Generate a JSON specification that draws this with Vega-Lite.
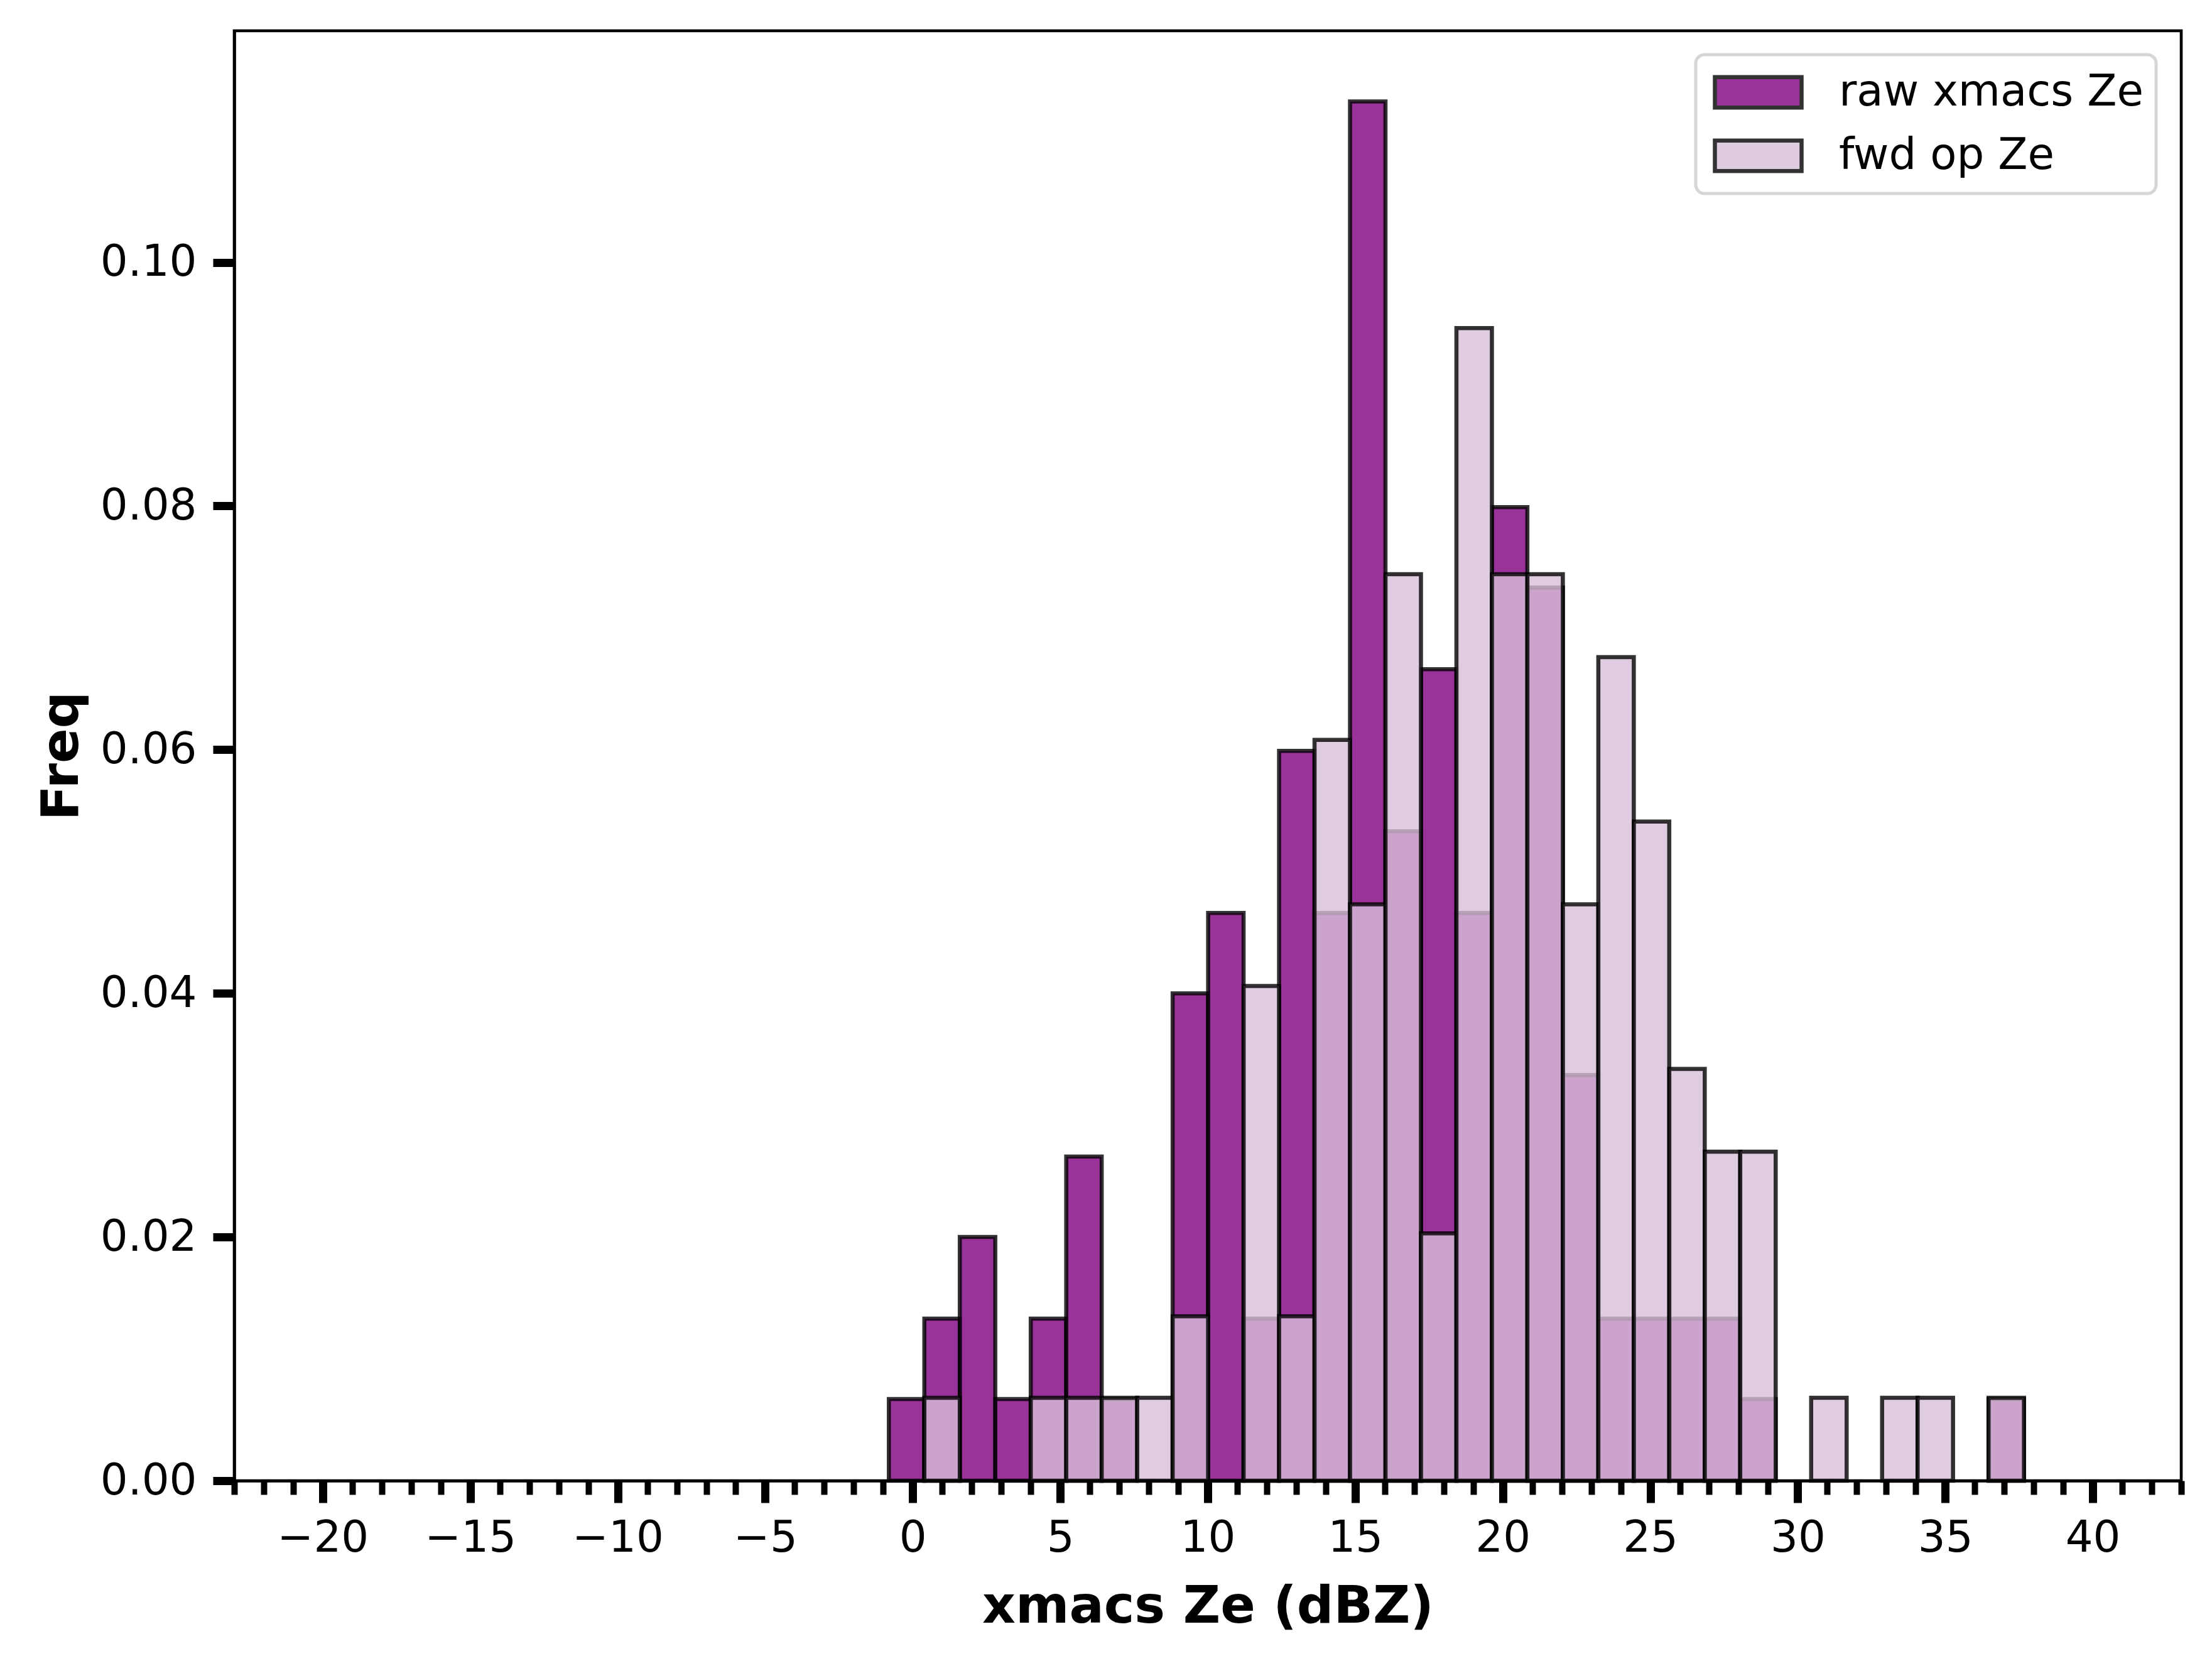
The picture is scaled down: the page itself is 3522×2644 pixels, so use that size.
{
  "$schema": "https://vega.github.io/schema/vega-lite/v6.json",
  "description": "Histogram of raw xmacs Ze vs forward operator Ze (density)",
  "width": 3100,
  "height": 2308,
  "autosize": {"type": "none"},
  "padding": {"left": 373, "top": 49, "right": 49, "bottom": 287},
  "background": "white",
  "config": {
    "font": "DejaVu Sans",
    "view": {"stroke": "black", "strokeWidth": 4.6}
  },
  "data": {
    "values": [
      {"series": "raw xmacs Ze", "x0": -0.81, "x1": 0.393, "density": 0.0067},
      {"series": "raw xmacs Ze", "x0": 0.393, "x1": 1.595, "density": 0.0133},
      {"series": "raw xmacs Ze", "x0": 1.595, "x1": 2.798, "density": 0.02},
      {"series": "raw xmacs Ze", "x0": 2.798, "x1": 4.0, "density": 0.0067},
      {"series": "raw xmacs Ze", "x0": 4.0, "x1": 5.203, "density": 0.0133},
      {"series": "raw xmacs Ze", "x0": 5.203, "x1": 6.405, "density": 0.0266},
      {"series": "raw xmacs Ze", "x0": 6.405, "x1": 7.608, "density": 0.0067},
      {"series": "raw xmacs Ze", "x0": 8.81, "x1": 10.013, "density": 0.04},
      {"series": "raw xmacs Ze", "x0": 10.013, "x1": 11.215, "density": 0.0466},
      {"series": "raw xmacs Ze", "x0": 11.215, "x1": 12.418, "density": 0.0133},
      {"series": "raw xmacs Ze", "x0": 12.418, "x1": 13.62, "density": 0.0599},
      {"series": "raw xmacs Ze", "x0": 13.62, "x1": 14.823, "density": 0.0466},
      {"series": "raw xmacs Ze", "x0": 14.823, "x1": 16.025, "density": 0.1132},
      {"series": "raw xmacs Ze", "x0": 16.025, "x1": 17.228, "density": 0.0533},
      {"series": "raw xmacs Ze", "x0": 17.228, "x1": 18.43, "density": 0.0666},
      {"series": "raw xmacs Ze", "x0": 18.43, "x1": 19.633, "density": 0.0466},
      {"series": "raw xmacs Ze", "x0": 19.633, "x1": 20.835, "density": 0.0799},
      {"series": "raw xmacs Ze", "x0": 20.835, "x1": 22.038, "density": 0.0733},
      {"series": "raw xmacs Ze", "x0": 22.038, "x1": 23.24, "density": 0.0333},
      {"series": "raw xmacs Ze", "x0": 23.24, "x1": 24.443, "density": 0.0133},
      {"series": "raw xmacs Ze", "x0": 24.443, "x1": 25.645, "density": 0.0133},
      {"series": "raw xmacs Ze", "x0": 25.645, "x1": 26.848, "density": 0.0133},
      {"series": "raw xmacs Ze", "x0": 26.848, "x1": 28.05, "density": 0.0133},
      {"series": "raw xmacs Ze", "x0": 28.05, "x1": 29.253, "density": 0.0067},
      {"series": "raw xmacs Ze", "x0": 36.468, "x1": 37.67, "density": 0.0067},
      {"series": "fwd op Ze", "x0": 0.393, "x1": 1.595, "density": 0.0068},
      {"series": "fwd op Ze", "x0": 4.0, "x1": 5.203, "density": 0.0068},
      {"series": "fwd op Ze", "x0": 5.203, "x1": 6.405, "density": 0.0068},
      {"series": "fwd op Ze", "x0": 6.405, "x1": 7.608, "density": 0.0068},
      {"series": "fwd op Ze", "x0": 7.608, "x1": 8.81, "density": 0.0068},
      {"series": "fwd op Ze", "x0": 8.81, "x1": 10.013, "density": 0.0135},
      {"series": "fwd op Ze", "x0": 11.215, "x1": 12.418, "density": 0.0406},
      {"series": "fwd op Ze", "x0": 12.418, "x1": 13.62, "density": 0.0135},
      {"series": "fwd op Ze", "x0": 13.62, "x1": 14.823, "density": 0.0608},
      {"series": "fwd op Ze", "x0": 14.823, "x1": 16.025, "density": 0.0473},
      {"series": "fwd op Ze", "x0": 16.025, "x1": 17.228, "density": 0.0744},
      {"series": "fwd op Ze", "x0": 17.228, "x1": 18.43, "density": 0.0203},
      {"series": "fwd op Ze", "x0": 18.43, "x1": 19.633, "density": 0.0946},
      {"series": "fwd op Ze", "x0": 19.633, "x1": 20.835, "density": 0.0744},
      {"series": "fwd op Ze", "x0": 20.835, "x1": 22.038, "density": 0.0744},
      {"series": "fwd op Ze", "x0": 22.038, "x1": 23.24, "density": 0.0473},
      {"series": "fwd op Ze", "x0": 23.24, "x1": 24.443, "density": 0.0676},
      {"series": "fwd op Ze", "x0": 24.443, "x1": 25.645, "density": 0.0541},
      {"series": "fwd op Ze", "x0": 25.645, "x1": 26.848, "density": 0.0338},
      {"series": "fwd op Ze", "x0": 26.848, "x1": 28.05, "density": 0.027},
      {"series": "fwd op Ze", "x0": 28.05, "x1": 29.253, "density": 0.027},
      {"series": "fwd op Ze", "x0": 30.455, "x1": 31.658, "density": 0.0068},
      {"series": "fwd op Ze", "x0": 32.86, "x1": 34.063, "density": 0.0068},
      {"series": "fwd op Ze", "x0": 34.063, "x1": 35.265, "density": 0.0068},
      {"series": "fwd op Ze", "x0": 36.468, "x1": 37.67, "density": 0.0068}
    ]
  },
  "layer": [
    {
      "transform": [{"filter": "datum.series === 'raw xmacs Ze'"}],
      "mark": {"type": "bar", "fillOpacity": 0.8, "stroke": "black", "strokeOpacity": 0.8, "strokeWidth": 6.5},
      "encoding": {
        "x": {
          "field": "x0", "type": "quantitative",
          "scale": {"domain": [-23, 43], "nice": false, "zero": false},
          "axis": {
            "orient": "bottom",
            "values": [-23,-22,-21,-20,-19,-18,-17,-16,-15,-14,-13,-12,-11,-10,-9,-8,-7,-6,-5,-4,-3,-2,-1,0,1,2,3,4,5,6,7,8,9,10,11,12,13,14,15,16,17,18,19,20,21,22,23,24,25,26,27,28,29,30,31,32,33,34,35,36,37,38,39,40,41,42,43],
            "labels": false, "domain": false, "grid": false, "title": null,
            "tickSize": 22, "tickWidth": 10, "tickColor": "black"
          }
        },
        "x2": {"field": "x1"},
        "y": {
          "field": "density", "type": "quantitative",
          "scale": {"domain": [0, 0.119], "nice": false},
          "axis": {
            "values": [0, 0.02, 0.04, 0.06, 0.08, 0.1], "format": ".2f",
            "grid": false, "domainColor": "black", "domainWidth": 4.6,
            "tickSize": 34, "tickWidth": 13, "tickColor": "black",
            "labelFontSize": 69, "labelColor": "black", "labelPadding": 26,
            "title": "Freq", "titleFontSize": 82, "titleFontWeight": "bold", "titleColor": "black", "titlePadding": 33
          }
        },
        "y2": {"datum": 0},
        "color": {
          "field": "series", "type": "nominal",
          "scale": {"domain": ["raw xmacs Ze", "fwd op Ze"], "range": ["purple", "thistle"]},
          "legend": {
            "orient": "none", "legendX": 2327, "legendY": 38, "title": null,
            "symbolType": "M-1,-0.35L1,-0.35L1,0.35L-1,0.35Z", "symbolSize": 19044,
            "symbolStrokeColor": "black", "symbolStrokeWidth": 6.5, "symbolOpacity": 0.8, "symbolOffset": 7,
            "labelFontSize": 69, "labelColor": "black", "labelOffset": 56, "labelLimit": 2000,
            "clipHeight": 80, "rowPadding": 21, "padding": 20,
            "strokeColor": "#d6d6d6", "cornerRadius": 14, "fillColor": "white",
            "encode": {"legend": {"update": {"strokeWidth": {"value": 5}}}}
          }
        }
      }
    },
    {
      "transform": [{"filter": "datum.series === 'fwd op Ze'"}],
      "mark": {"type": "bar", "fillOpacity": 0.8, "stroke": "black", "strokeOpacity": 0.8, "strokeWidth": 6.5},
      "encoding": {
        "x": {
          "field": "x0", "type": "quantitative",
          "scale": {"domain": [-23, 43], "nice": false, "zero": false},
          "axis": {
            "orient": "bottom", "zindex": 1,
            "values": [-20, -15, -10, -5, 0, 5, 10, 15, 20, 25, 30, 35, 40], "format": "d",
            "labelExpr": "replace(datum.label, '-', '−')",
            "grid": false, "domainColor": "black", "domainWidth": 4.6,
            "tickSize": 35, "tickWidth": 13, "tickColor": "black",
            "labelFontSize": 69, "labelColor": "black", "labelPadding": 22,
            "title": "xmacs Ze (dBZ)", "titleFontSize": 82, "titleFontWeight": "bold", "titleColor": "black", "titlePadding": 34
          }
        },
        "x2": {"field": "x1"},
        "y": {
          "field": "density", "type": "quantitative",
          "scale": {"domain": [0, 0.119], "nice": false},
          "axis": {
            "values": [0, 0.02, 0.04, 0.06, 0.08, 0.1], "format": ".2f",
            "grid": false, "domainColor": "black", "domainWidth": 4.6,
            "tickSize": 34, "tickWidth": 13, "tickColor": "black",
            "labelFontSize": 69, "labelColor": "black", "labelPadding": 26,
            "title": "Freq", "titleFontSize": 82, "titleFontWeight": "bold", "titleColor": "black", "titlePadding": 33
          }
        },
        "y2": {"datum": 0},
        "color": {
          "field": "series", "type": "nominal",
          "scale": {"domain": ["raw xmacs Ze", "fwd op Ze"], "range": ["purple", "thistle"]},
          "legend": {
            "orient": "none", "legendX": 2327, "legendY": 38, "title": null,
            "symbolType": "M-1,-0.35L1,-0.35L1,0.35L-1,0.35Z", "symbolSize": 19044,
            "symbolStrokeColor": "black", "symbolStrokeWidth": 6.5, "symbolOpacity": 0.8, "symbolOffset": 7,
            "labelFontSize": 69, "labelColor": "black", "labelOffset": 56, "labelLimit": 2000,
            "clipHeight": 80, "rowPadding": 21, "padding": 20,
            "strokeColor": "#d6d6d6", "cornerRadius": 14, "fillColor": "white",
            "encode": {"legend": {"update": {"strokeWidth": {"value": 5}}}}
          }
        }
      }
    }
  ],
  "resolve": {"axis": {"x": "independent"}}
}
